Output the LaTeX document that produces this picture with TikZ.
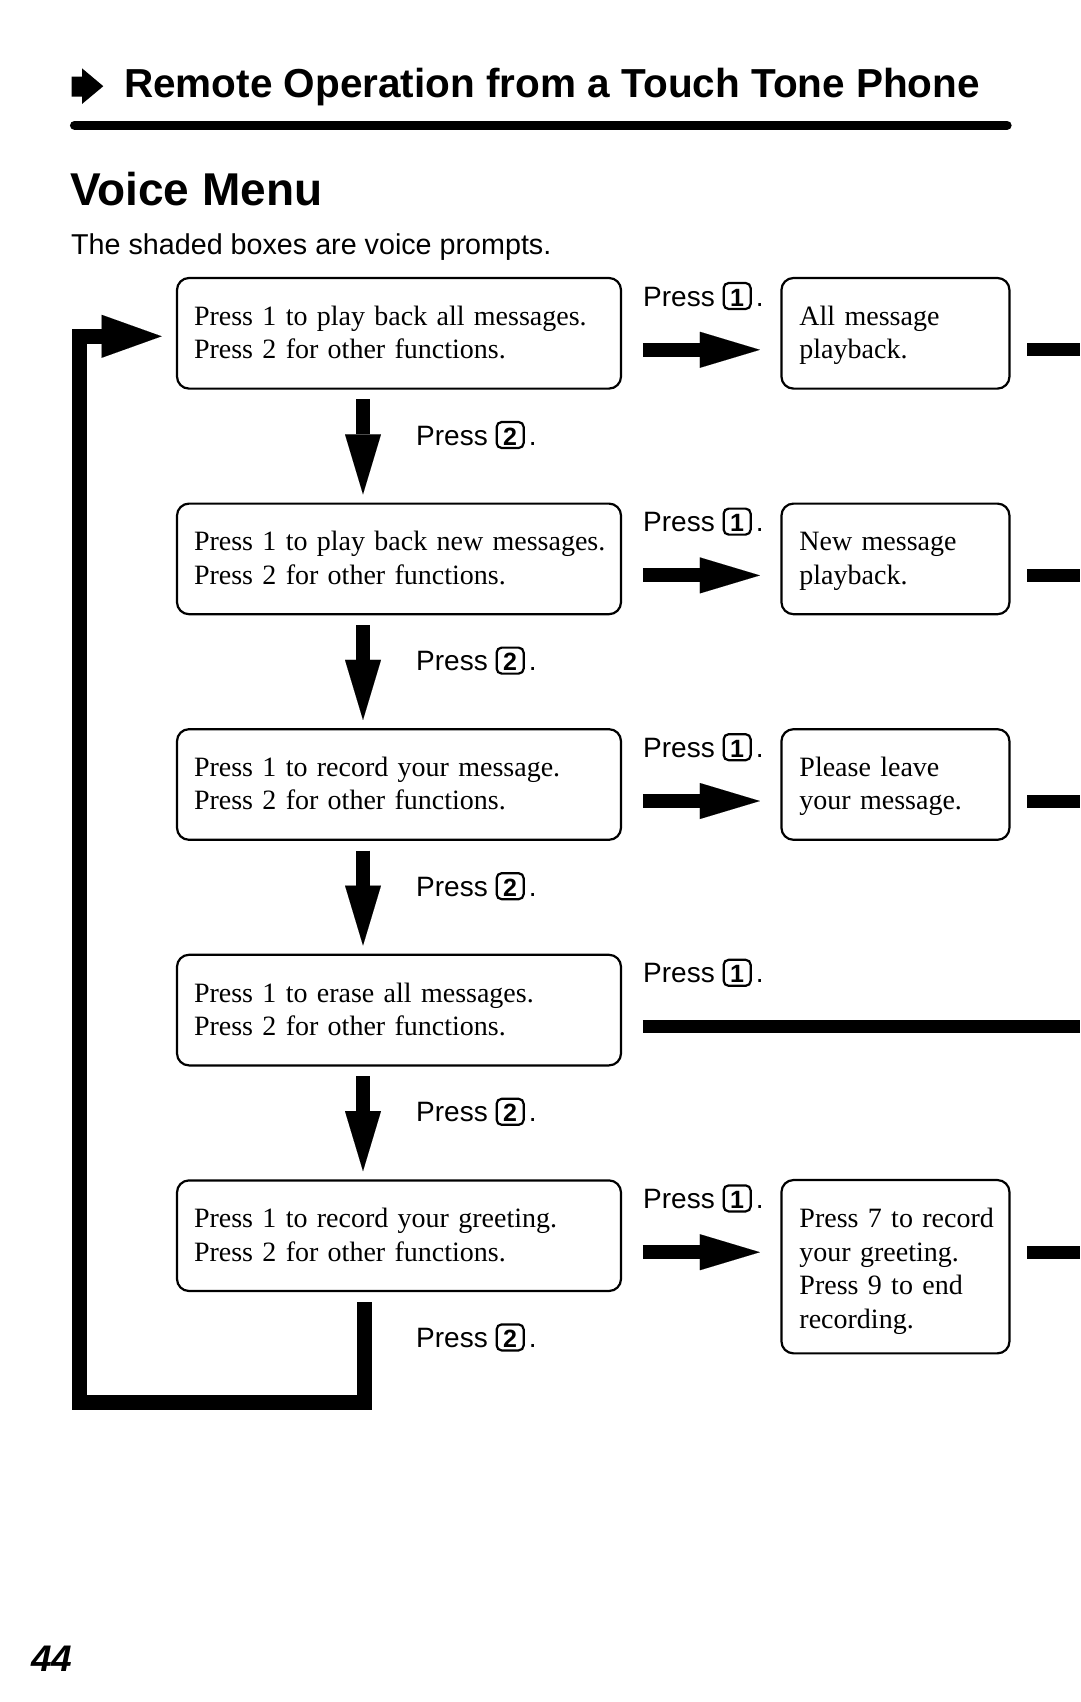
\documentclass[tikz,border=0pt]{standalone}
\usepackage{fontspec}
\setmainfont{Liberation Serif}
\setsansfont{Liberation Sans}
\newfontfamily\hv{Liberation Sans}
\usetikzlibrary{arrows.meta,calc}
\newcommand\keycap[1]{\tikz[baseline=(kc.base)]\node[draw,line width=2.2pt,rounded corners=5pt,minimum width=27pt,minimum height=26pt,inner sep=0pt,outer sep=0pt,text height=20pt,text depth=0pt,font=\hv\bfseries\fontsize{25}{28}\selectfont](kc){#1};}
\newcommand\ml[1]{\mbox{#1}}
\newcommand\topst{\rule{0pt}{27.5pt}}
\newcommand\topstb{\rule{0pt}{32.5pt}}
\begin{document}
\begin{tikzpicture}[x=1pt,y=-1pt,
  lbox/.style={draw,line width=2.2pt,rounded corners=12pt,inner xsep=17pt,inner ysep=0pt,
    text width=410pt,minimum height=110.6pt,align=left,font=\fontsize{28}{33.5}\selectfont},
  rbox/.style={lbox,inner xsep=18pt,text width=192pt},
  presslbl/.style={anchor=base west,inner sep=0pt,font=\hv\fontsize{28}{32}\selectfont},
  blockarrow/.style={line width=14pt,-{Triangle[length=60pt,width=36pt,line width=0.01pt]}},
  stub/.style={line width=13pt},
  loopline/.style={line width=14.5pt,line join=miter,-{Triangle[length=60pt,width=43pt,line width=0.01pt]}}]
\useasboundingbox[fill=white] (0,0) rectangle (1080,1702);

% header
\fill (71.7,76.5) -- (82,76.5) -- (82,68.3) -- (103.3,86.2) -- (82,104) -- (82,96.7) -- (71.7,96.7) -- cycle;
\node[anchor=base west,inner sep=0pt,font=\hv\bfseries\fontsize{40.5}{44}\selectfont] (title) at (124,97.5) {Remote Operation from a Touch Tone Phone};
\draw[line width=9.3pt,line cap=round] (74.6,125.3) -- (1007,125.3);
\node[anchor=base west,inner sep=0pt,font=\hv\bfseries\fontsize{46}{50}\selectfont] (vm) at (70,205) {Voice Menu};
\node[anchor=base west,inner sep=0pt,font=\hv\fontsize{28.7}{32}\selectfont] (sub) at (71,254) {The shaded boxes are voice prompts.};

% left boxes
\node[lbox] (b1) at (399,333.3) {\topst\ml{Press 1 to play back all messages.}\\\ml{Press 2 for other functions.}\strut};
\node[lbox] (b2) at (399,558.9) {\topst\ml{Press 1 to play back new messages.}\\\ml{Press 2 for other functions.}\strut};
\node[lbox] (b3) at (399,784.5) {\topst\ml{Press 1 to record your message.}\\\ml{Press 2 for other functions.}\strut};
\node[lbox] (b4) at (399,1010.1) {\topst\ml{Press 1 to erase all messages.}\\\ml{Press 2 for other functions.}\strut};
\node[lbox] (b5) at (399,1235.7) {\topst\ml{Press 1 to record your greeting.}\\\ml{Press 2 for other functions.}\strut};

% right boxes
\node[rbox] (r1) at (895.45,333.3) {\topst\ml{All message}\\\ml{playback.}\strut};
\node[rbox] (r2) at (895.45,558.9) {\topst\ml{New message}\\\ml{playback.}\strut};
\node[rbox] (r3) at (895.45,784.5) {\topst\ml{Please leave}\\\ml{your message.}\strut};
\node[rbox,minimum height=173.3pt] (r5) at (895.45,1266.7) {\topstb\ml{Press 7 to record}\\\ml{your greeting.}\\\ml{Press 9 to end}\\\ml{recording.}\strut};

% press labels
\node[presslbl] (p1a) at (643,306) {Press \keycap{1}\hspace{4pt}.};
\node[presslbl] (p1b) at (643,531.6) {Press \keycap{1}\hspace{4pt}.};
\node[presslbl] (p1c) at (643,757.2) {Press \keycap{1}\hspace{4pt}.};
\node[presslbl] (p1d) at (643,982.8) {Press \keycap{1}\hspace{4pt}.};
\node[presslbl] (p1e) at (643,1208.4) {Press \keycap{1}\hspace{4pt}.};
\node[presslbl] (p2a) at (416,445) {Press \keycap{2}\hspace{4pt}.};
\node[presslbl] (p2b) at (416,670.6) {Press \keycap{2}\hspace{4pt}.};
\node[presslbl] (p2c) at (416,896.2) {Press \keycap{2}\hspace{4pt}.};
\node[presslbl] (p2d) at (416,1121.8) {Press \keycap{2}\hspace{4pt}.};
\node[presslbl] (p2e) at (416,1347.4) {Press \keycap{2}\hspace{4pt}.};

% page number
\node[anchor=base west,inner sep=0pt,font=\hv\bfseries\itshape\fontsize{37}{40}\selectfont] (pg) at (31,1671.7) {44};

% coordinates
\coordinate (edge) at (1080,0);
\foreach \k in {1,...,5}{\coordinate (a\k) at ($(b\k.east)+(0,16.5)$); \coordinate (e\k) at (a\k -| edge);}

% down arrows
\foreach \i/\j in {1/2,2/3,3/4,4/5}{
  \draw[blockarrow] ($(b\i.south)+(-36,9.7)$) -- ($(b\j.north)+(-36,-8.2)$);}

% right arrows and stubs
\foreach \k in {1,2,3,5}{
  \draw[blockarrow] ($(a\k)+(20.7,0)$) -- ($(r\k.west |- a\k)+(-20.5,0)$);
  \draw[stub] ($(r\k.east |- a\k)+(16.6,0)$) -- (e\k);}
\draw[stub] ($(a4)+(20.7,0)$) -- (e4);

% loop back
\coordinate (lb) at (79.5,1402.5);
\coordinate (ls) at ($(b5.south)+(-34.3,10)$);
\coordinate (lt) at ($(b1.west)+(-14.3,3)$);
\draw[loopline] (ls) -- (ls |- lb) -- (lb) -- (lb |- lt) -- (lt);
\end{tikzpicture}
\end{document}
